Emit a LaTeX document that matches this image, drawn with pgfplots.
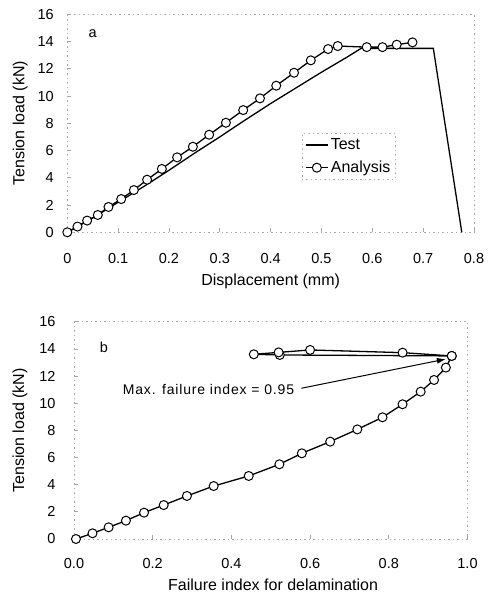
\documentclass[border=0pt]{standalone}
\usepackage{fontspec}
\setmainfont{Liberation Sans}
\usepackage{pgfplots}
\pgfplotsset{compat=1.18}
\usetikzlibrary{arrows.meta}

\pgfplotsset{
  myaxis/.style={
    scale only axis,
    enlargelimits=false,
    clip=false,
    axis line style={gray!65, dash pattern=on 1.5bp off 3bp, line width=0.7bp},
    tick align=inside, tick pos=left,
    major tick length=4bp,
    every tick/.style={gray!70, line width=0.7bp},
    ymin=0, ymax=16, ytick={0,2,...,16},
    /pgf/number format/assume math mode=true,
    tick label style={font=\fontsize{14.5bp}{16bp}\selectfont},
    label style={font=\fontsize{16bp}{18bp}\selectfont},
    legend image code/.code={\draw[mark repeat=2,mark phase=2] plot coordinates {(0cm,0cm) (0.4cm,0cm) (0.8cm,0cm)};},
  },
  circ/.style={black, line width=1.3bp, mark=*, mark size=4.5bp, mark options={fill=white, draw=black, line width=1bp, solid}},
}

\pgfplotstableread{
x y
0 0
0.05 1.05
0.1 2.2
0.15 3.35
0.2 4.55
0.25 5.8
0.3 7.0
0.34 8.0
0.4 9.45
0.45 10.6
0.5 11.75
0.55 12.85
0.578 13.5
0.72 13.5
0.776 0
}\testdata

\pgfplotstableread{
x y
0.000 0.00
0.020 0.42
0.039 0.86
0.060 1.27
0.081 1.86
0.106 2.44
0.131 3.10
0.157 3.86
0.186 4.65
0.216 5.50
0.247 6.28
0.279 7.16
0.312 8.04
0.346 8.97
0.379 9.83
0.411 10.76
0.446 11.71
0.479 12.62
0.513 13.45
0.532 13.67
0.589 13.59
0.620 13.59
0.648 13.77
0.679 13.94
}\analysisdata

\pgfplotstableread{
x y
0.005 0.00
0.047 0.42
0.088 0.86
0.132 1.35
0.178 1.94
0.228 2.50
0.287 3.17
0.355 3.90
0.444 4.64
0.522 5.50
0.579 6.31
0.651 7.17
0.720 8.07
0.784 8.96
0.835 9.92
0.881 10.85
0.915 11.71
0.945 12.62
0.960 13.48
0.523 13.55
0.457 13.60
0.520 13.74
0.600 13.92
0.835 13.72
0.960 13.48
}\failuredata

\begin{document}
\begin{tikzpicture}
\path[use as bounding box] (0,0) rectangle (492bp,597bp);

\begin{axis}[myaxis,
  at={(67.3bp,364.7bp)}, anchor=south west,
  width=406.7bp, height=218bp,
  xmin=0, xmax=0.8,
  xtick={0,0.1,0.2,0.3,0.4,0.5,0.6,0.7,0.8},
  xticklabels={0,0.1,0.2,0.3,0.4,0.5,0.6,0.7,0.8},
  xticklabel style={yshift=-18bp},
  yticklabel style={xshift=-10bp},
  xlabel={Displacement (mm)},
  ylabel={Tension load (kN)},
  xlabel style={at={(axis description cs:0.5,-0.227)}, anchor=center},
  ylabel style={at={(axis description cs:-0.116,0.5)}, anchor=center},
  legend style={at={(axis description cs:0.576,0.454)}, anchor=north west,
    draw=gray!60, dash pattern=on 1.5bp off 3bp, line width=0.6bp,
    font=\fontsize{16bp}{18bp}\selectfont, inner sep=3bp, row sep=6bp,
    nodes={inner sep=2bp}},
  legend cell align=left,
]
\addplot[black, line width=1.3bp] table {\testdata};
\addlegendentry{Test}
\addplot[circ] table {\analysisdata};
\addlegendentry{Analysis}
\node[font=\fontsize{14.5bp}{16bp}\selectfont] at (axis cs:0.05,14.55) {a};
\end{axis}

\begin{axis}[myaxis,
  at={(74bp,58bp)}, anchor=south west,
  width=393.5bp, height=217.3bp,
  xmin=0, xmax=1.0,
  xtick={0,0.2,0.4,0.6,0.8,1.0},
  xticklabels={0.0,0.2,0.4,0.6,0.8,1.0},
  xticklabel style={yshift=-16bp},
  yticklabel style={xshift=-15bp},
  xlabel={Failure index for delamination},
  ylabel={Tension load (kN)},
  xlabel style={at={(axis description cs:0.506,-0.212)}, anchor=center},
  ylabel style={at={(axis description cs:-0.137,0.5)}, anchor=center},
]
\addplot[circ] table {\failuredata};
\node[font=\fontsize{14.5bp}{16bp}\selectfont] at (axis cs:0.076,14.1) {b};
\node[anchor=east, inner sep=0pt, font=\fontsize{14bp}{16bp}\selectfont\addfontfeatures{LetterSpace=6}] at (axis cs:0.560,11.0) {Max. failure index = 0.95};
\draw[-{Latex[length=9bp,width=6bp]}, line width=1bp] (axis cs:0.578,11.1) -- (axis cs:0.945,13.25);
\end{axis}
\end{tikzpicture}
\end{document}
